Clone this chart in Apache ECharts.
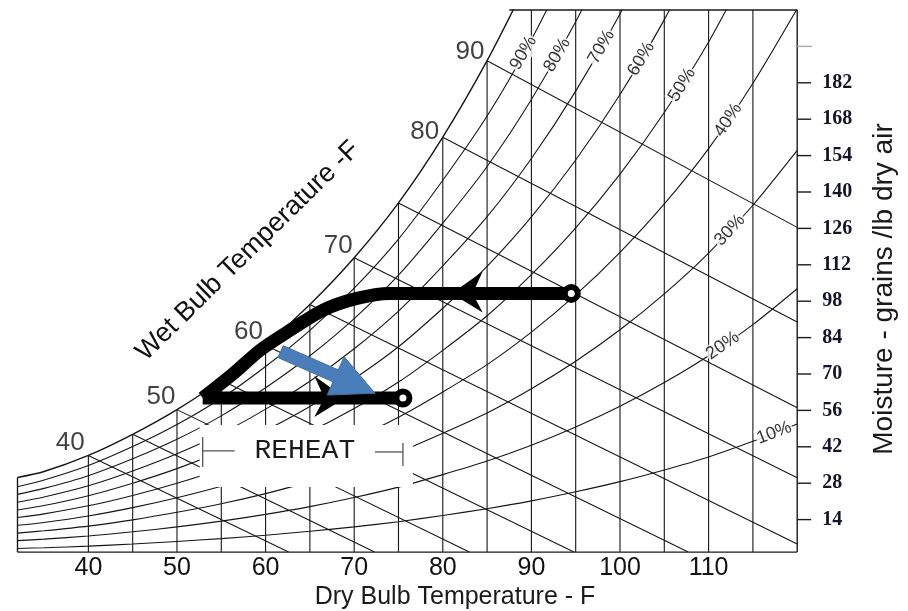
<!DOCTYPE html>
<html>
<head>
<meta charset="utf-8">
<script src="https://cdn.jsdelivr.net/npm/echarts@6/dist/echarts.min.js"></script>
<style>
  html, body { margin: 0; padding: 0; background: #fff; }
  #chart { width: 908px; height: 611px; }
</style>
</head>
<body>
<div id="chart"></div>
<script>
// Dry-bulb stations (°F) shared by the saturation and relative-humidity curves
const dryBulb = [32, 35, 40, 45, 50, 55, 60, 65, 70, 75, 80, 85, 90, 95, 100, 105, 110, 115, 120];

// Moisture content (grains / lb dry air) at each dry-bulb station
const saturation = [30.2, 32.5, 38.7, 46.8, 56.3, 67.6, 81.1, 96.7, 114.7, 135.8, 161.1, 190.5, 224.0];
const rh90 = [26.6, 29.2, 34.8, 42.1, 50.6, 60.7, 72.9, 86.8, 103.0, 121.9, 144.5, 169.2, 198.6, 232.5];
const rh80 = [23.7, 26.0, 30.9, 37.4, 44.9, 53.9, 64.7, 77.0, 91.3, 108.0, 128.0, 149.8, 175.6, 205.5, 239.9];
const rh70 = [20.7, 22.7, 27.0, 32.7, 39.3, 47.1, 56.5, 67.2, 79.7, 94.2, 111.6, 130.5, 152.9, 178.8, 208.5, 242.6];
const rh60 = [17.7, 19.4, 23.2, 28.0, 33.6, 40.3, 48.3, 57.5, 68.2, 80.5, 95.3, 111.4, 130.4, 152.3, 177.5, 206.3, 239.4];
const rh50 = [14.8, 16.2, 19.3, 23.3, 28.0, 33.5, 40.2, 47.8, 56.7, 66.9, 79.1, 92.4, 108.2, 126.2, 146.9, 170.6, 197.7, 229.6];
const rh40 = [11.8, 12.9, 15.4, 18.6, 22.4, 26.8, 32.1, 38.2, 45.2, 53.4, 63.1, 73.6, 86.1, 100.4, 116.8, 135.4, 156.7, 181.8, 210.5];
const rh30 = [8.8, 9.7, 11.5, 13.9, 16.8, 20.1, 24.0, 28.6, 33.8, 39.9, 47.2, 55.0, 64.3, 74.9, 87.0, 100.8, 116.5, 134.9, 156.0];
const rh20 = [5.9, 6.5, 7.7, 9.3, 11.2, 13.4, 16.0, 19.0, 22.5, 26.5, 31.3, 36.5, 42.6, 49.6, 57.6, 66.7, 77.0, 89.0, 102.8];
const rh10 = [2.9, 3.2, 3.8, 4.6, 5.6, 6.7, 8.0, 9.5, 11.2, 13.2, 15.6, 18.2, 21.2, 24.7, 28.6, 33.1, 38.1, 44.1, 50.8];

// Relative-humidity labels, placed on their curves
const rhLabelText = ['90%', '80%', '70%', '60%', '50%', '40%', '30%', '20%', '10%'];
const rhLabelT = [89.1, 92.9, 97.9, 102.4, 107.0, 112.2, 112.4, 111.6, 117.4];
const rhLabelW = [193.5, 192.7, 195.8, 191.2, 181.2, 167.7, 125.3, 80.9, 47.3];

// Constant dry-bulb grid lines (°F)
const dbLines = [40, 45, 50, 55, 60, 65, 70, 75, 80, 85, 90, 95, 100, 105, 110, 115];

// Wet-bulb lines: start on the saturation curve, end on the chart frame
const wbTemps = [40, 45, 50, 55, 60, 65, 70, 75, 80, 85];
const wbEndT = [62.6, 72.3, 83.0, 94.8, 107.7, 120, 120, 120, 120, 120];
const wbEndW = [1.5, 1.5, 1.5, 1.5, 1.5, 4.6, 30.1, 57.0, 90.0, 126.4];
const wbLabelText = ['40', '50', '60', '70', '80', '90'];
const wbLabelAt = [40, 50, 60, 70, 80, 85];

// Axis tick labels
const dryBulbTicks = [40, 50, 60, 70, 80, 90, 100, 110];
const moistureTicks = [14, 28, 42, 56, 70, 84, 98, 112, 126, 140, 154, 168, 182, 196];
const moistureLabels = [14, 28, 42, 56, 70, 84, 98, 112, 126, 140, 154, 168, 182];

// Air-conditioning process: cooling / dehumidifying, then reheat
const coolT = [94.5, 80.0, 74.0, 70.3, 66.5, 62.8, 59.4, 56.4, 52.9];
const coolW = [101.0, 101.0, 101.0, 99.1, 94.6, 86.9, 79.2, 70.3, 60.8];
const reheatT = [52.9, 75.5];
const reheatW = [60.8, 60.8];
const stateT = [94.5, 75.5];
const stateW = [101.0, 60.8];
const flowTipT = [81.0, 69.0];
const flowTipW = [101.0, 60.8];
const flowDir = [-1, 1];

// Shift of the supply state drawn as a blue arrow
const shiftT = [61.7, 72.35];
const shiftW = [78.6, 62.6];

// Reheat span (dry-bulb from, to) and the moisture level of its dimension line
const reheatSpan = [52.9, 75.5];
const reheatLabelW = 40.4;

// Chart frame
const frameBottomW = 1.5;
const frameTopW = 210;
const frameTopStartT = 87.5;

const INK = '#161616';
const SANS = 'Liberation Sans';

function satAt(t) {
  const i = dryBulb.indexOf(t);
  const w = i >= 0 ? saturation[i] : undefined;
  return (w === undefined || w > frameTopW) ? frameTopW : w;
}
function pairs(vals) {
  return vals.map((w, i) => [dryBulb[i], w]);
}

const segments = [];
dbLines.forEach(t => segments.push([t, frameBottomW, t, satAt(t)]));
wbTemps.forEach((t, i) => segments.push([t, satAt(t), wbEndT[i], wbEndW[i]]));

const frame = [
  [32, frameBottomW, 120, frameBottomW],
  [120, frameBottomW, 120, frameTopW],
  [frameTopStartT, frameTopW, 120, frameTopW],
  [32, frameBottomW, 32, saturation[0]]
];

function segmentSeries(data, width, color, z) {
  return {
    type: 'custom', data: data, z: z, silent: true, animation: false,
    renderItem: (params, api) => {
      const p1 = api.coord([api.value(0), api.value(1)]);
      const p2 = api.coord([api.value(2), api.value(3)]);
      return {
        type: 'line',
        shape: { x1: p1[0], y1: p1[1], x2: p2[0], y2: p2[1] },
        style: { stroke: color, lineWidth: width }
      };
    }
  };
}

function curveSeries(vals, z, width) {
  return {
    type: 'line', data: pairs(vals), z: z, silent: true, animation: false,
    showSymbol: false, smooth: 0.25, clip: true,
    lineStyle: { color: INK, width: width || 1.1 }
  };
}

const rhAngles = [60, 60, 60, 59, 58, 56, 47, 35, 21];
const wbLabelOffset = [[-18, -13], [-16, -13], [-17, -13], [-16, -12], [-18, -5], [-17, -9]];

const series = [];
series.push(segmentSeries(segments, 1.1, INK, 1));
series.push(curveSeries(saturation, 1, 1.4));
[rh90, rh80, rh70, rh60, rh50, rh40, rh30, rh20, rh10].forEach(v => series.push(curveSeries(v, 1)));
series.push(segmentSeries(frame, 1.4, '#1a1a1a', 2));

// right-hand moisture ticks
series.push({
  type: 'custom', z: 2, silent: true, animation: false,
  data: moistureTicks.map(v => [120, v]),
  renderItem: (params, api) => {
    const p = api.coord([api.value(0), api.value(1)]);
    const faint = api.value(1) === 196;
    return {
      type: 'line',
      shape: { x1: p[0], y1: p[1], x2: p[0] + (faint ? 15 : 14), y2: p[1] },
      style: { stroke: faint ? '#aaa' : '#1a1a1a', lineWidth: 1.4 }
    };
  }
});

// relative-humidity labels cut into their curves
series.push({
  type: 'scatter', z: 3, silent: true, animation: false,
  symbolSize: 0.1, itemStyle: { color: 'rgba(0,0,0,0)' },
  data: rhLabelText.map((txt, i) => ({
    value: [rhLabelT[i], rhLabelW[i]],
    label: {
      show: true, position: 'inside', formatter: txt, rotate: rhAngles[i],
      backgroundColor: '#fff', padding: [0, 1],
      fontFamily: SANS, fontSize: 18, color: '#000'
    }
  }))
});

// wet-bulb temperature labels beside the saturation curve
series.push({
  type: 'scatter', z: 3, silent: true, animation: false,
  symbolSize: 0.1, itemStyle: { color: 'rgba(0,0,0,0)' },
  data: wbLabelText.map((txt, i) => ({
    value: [wbLabelAt[i], satAt(wbLabelAt[i])],
    label: {
      show: true, position: wbLabelOffset[i], formatter: txt,
      align: 'center', verticalAlign: 'middle',
      fontFamily: SANS, fontSize: 26, color: '#111'
    }
  }))
});

// REHEAT dimension line on a cleared patch of the chart
series.push({
  type: 'custom', z: 4, silent: true, animation: false,
  data: [[reheatSpan[0], reheatSpan[1], reheatLabelW]],
  renderItem: (params, api) => {
    const l = api.coord([api.value(0), api.value(2)]);
    const r = api.coord([api.value(1), api.value(2)]);
    const y = l[1];
    const grey = { stroke: '#555', lineWidth: 1.3 };
    return {
      type: 'group',
      children: [
        { type: 'rect', shape: { x: l[0] - 3, y: y - 26, width: r[0] - l[0] + 13, height: 62 }, style: { fill: '#fff' } },
        { type: 'line', shape: { x1: l[0], y1: y - 14, x2: l[0], y2: y + 16 }, style: grey },
        { type: 'line', shape: { x1: l[0], y1: y, x2: l[0] + 32, y2: y }, style: grey },
        { type: 'line', shape: { x1: r[0] - 28, y1: y + 1, x2: r[0], y2: y + 1 }, style: grey },
        { type: 'line', shape: { x1: r[0], y1: y - 8, x2: r[0], y2: y + 15 }, style: grey },
        {
          type: 'text', x: (l[0] + r[0]) / 2 + 2, y: y,
          style: {
            text: 'REHEAT', fill: '#1a1a1a', fontSize: 28, fontFamily: 'Liberation Mono',
            align: 'center', verticalAlign: 'middle', textAlign: 'center', textVerticalAlign: 'middle'
          }
        }
      ]
    };
  }
});

// process paths
series.push({
  type: 'line', z: 5, silent: true, animation: false,
  data: coolT.map((t, i) => [t, coolW[i]]),
  showSymbol: false, smooth: 0.3,
  lineStyle: { color: '#000', width: 13, cap: 'butt', join: 'round' }
});
series.push({
  type: 'line', z: 5, silent: true, animation: false,
  data: reheatT.map((t, i) => [t, reheatW[i]]),
  showSymbol: false,
  lineStyle: { color: '#000', width: 13, cap: 'butt' }
});

// flow-direction arrowheads on the process paths
series.push({
  type: 'custom', z: 6, silent: true, animation: false,
  data: flowTipT.map((t, i) => [t, flowTipW[i], flowDir[i]]),
  renderItem: (params, api) => {
    const p = api.coord([api.value(0), api.value(1)]);
    const d = api.value(2);
    return {
      type: 'polygon',
      shape: {
        points: [
          [p[0], p[1]],
          [p[0] - d * 31, p[1] - 22],
          [p[0] - d * 21, p[1]],
          [p[0] - d * 31, p[1] + 19]
        ]
      },
      style: { fill: '#000' }
    };
  }
});

// state points
series.push({
  type: 'scatter', z: 7, silent: true, animation: false,
  data: stateT.map((t, i) => [t, stateW[i]]),
  symbol: 'circle', symbolSize: 13,
  itemStyle: { color: '#fff', borderColor: '#000', borderWidth: 6, opacity: 1 }
});

// blue shift arrow
series.push({
  type: 'custom', z: 8, silent: true, animation: false,
  data: [[shiftT[0], shiftW[0], shiftT[1], shiftW[1]]],
  renderItem: (params, api) => {
    const a = api.coord([api.value(0), api.value(1)]);
    const b = api.coord([api.value(2), api.value(3)]);
    const dx = b[0] - a[0], dy = b[1] - a[1];
    const len = Math.hypot(dx, dy);
    const ux = dx / len, uy = dy / len, nx = -uy, ny = ux;
    const sh = 6.5, hh = 21, hl = 43;
    const bx = b[0] - ux * hl, by = b[1] - uy * hl;
    return {
      type: 'polygon',
      shape: {
        points: [
          [a[0] + nx * sh, a[1] + ny * sh],
          [bx + nx * sh, by + ny * sh],
          [bx + nx * hh, by + ny * hh],
          [b[0], b[1]],
          [bx - nx * hh, by - ny * hh],
          [bx - nx * sh, by - ny * sh],
          [a[0] - nx * sh, a[1] - ny * sh]
        ]
      },
      style: { fill: '#4a7ebb', stroke: '#41709f', lineWidth: 1 }
    };
  }
});

const chart = echarts.init(document.getElementById('chart'), null, { renderer: 'canvas' });
chart.setOption({
  animation: false,
  backgroundColor: '#fff',
  textStyle: { fontFamily: SANS },
  grid: { left: 17.5, right: 110.8, top: 10, bottom: 55, containLabel: false },
  xAxis: {
    type: 'value', min: 32, max: 120, interval: 2,
    axisLine: { show: false }, axisTick: { show: false }, splitLine: { show: false },
    axisLabel: {
      formatter: v => (dryBulbTicks.indexOf(v) >= 0 ? String(v) : ''),
      fontFamily: SANS, fontSize: 25, color: '#111',
      margin: 12, verticalAlign: 'middle'
    }
  },
  yAxis: {
    type: 'value', position: 'right', min: 0, max: 210, interval: 14,
    axisLine: { show: false }, axisTick: { show: false }, splitLine: { show: false },
    axisLabel: {
      formatter: v => (moistureLabels.indexOf(v) >= 0 ? String(v) : ''),
      fontFamily: 'Liberation Serif', fontWeight: 'bold', fontSize: 20, color: '#15152a',
      margin: 25, align: 'left'
    }
  },
  graphic: [
    {
      type: 'text', x: 455, y: 597, silent: true,
      style: { text: 'Dry Bulb Temperature - F', fontFamily: SANS, fontSize: 25, fill: '#1a1a1a', align: 'center', verticalAlign: 'middle' }
    },
    {
      type: 'text', x: 884, y: 289, rotation: Math.PI / 2, silent: true,
      style: { text: 'Moisture - grains /lb dry air', fontFamily: SANS, fontSize: 28, fill: '#1a1a1a', align: 'center', verticalAlign: 'middle' }
    },
    {
      type: 'text', x: 248, y: 251, rotation: 44.4 * Math.PI / 180, silent: true,
      style: { text: 'Wet Bulb Temperature -F', fontFamily: SANS, fontSize: 27, fill: '#111', align: 'center', verticalAlign: 'middle' }
    }
  ],
  series: series
});
</script>
</body>
</html>
